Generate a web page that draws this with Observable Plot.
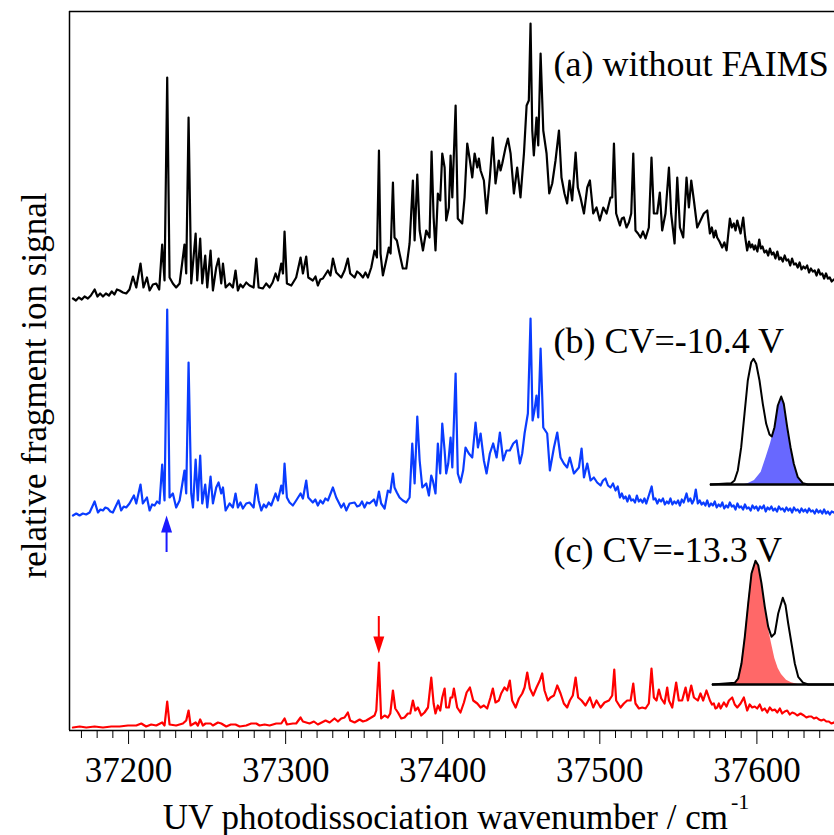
<!DOCTYPE html>
<html>
<head>
<meta charset="utf-8">
<script src="https://cdn.jsdelivr.net/npm/d3@7"></script>
<script src="https://cdn.jsdelivr.net/npm/@observablehq/plot@0.6"></script>
<style>
  body { margin: 0; background: white; }
  #wrap { position: relative; width: 834px; height: 835px; }
  .inset { position: absolute; }
</style>
</head>
<body>
<div id="wrap"></div>
<script>
// UV photodissociation spectra, stacked: [wavenumber (cm^-1), signal + vertical offset]
const spectrumA = [
  [37164.6,432],[37166.5,430],[37168.3,433],[37170.2,431],[37172.0,434],[37174.1,432],[37176.0,435],[37178.4,441],
  [37180.2,434],[37181.9,437],[37183.7,434],[37185.6,437],[37187.5,435],[37189.3,439],[37191.0,436],[37192.6,441],
  [37194.3,440],[37196.4,438],[37198.5,437],[37200.6,441],[37202.8,454],[37204.9,443],[37207.6,467],
  [37209.5,443],[37211.7,453],[37213.4,440],[37215.5,446],[37217.6,447],[37219.5,441],[37221.4,486],[37222.9,450],[37224.6,653],[37226.1,453],
  [37228.2,447],[37230.3,443],[37232.5,447],[37235.6,486],[37236.7,457],[37238.2,613],[37239.9,447],[37242.7,497],
  [37243.7,450],[37245.6,492],[37246.9,447],[37248.8,475],[37250.1,443],[37252.2,480],[37253.7,440],[37255.8,463],
  [37257.3,472],[37259.0,447],[37260.1,467],[37261.8,443],[37264.3,447],[37266.4,443],[37268.1,460],[37269.6,440],
  [37271.2,446],[37272.8,443],[37274.9,448],[37277.0,445],[37279.6,443],[37281.3,472],[37282.8,443],[37285.5,442],[37287.6,447],[37289.8,443],[37291.7,448],[37293.6,457],
  [37295.1,450],[37297.2,467],[37298.3,457],[37299.3,499],[37300.8,447],[37303.6,445],[37306.7,453],[37309.5,473],
  [37311.0,457],[37313.1,474],[37314.4,453],[37317.3,450],[37319.0,454],[37320.5,445],[37322.1,451],[37323.7,452],[37326.9,460],[37328.5,455],[37330.1,472],
  [37332.2,458],[37335.4,453],[37337.5,460],[37339.6,472],[37341.1,457],[37343.9,453],[37345.5,459],[37347.1,457],[37349.2,453],[37350.8,458],[37352.4,453],
  [37354.5,463],[37356.6,480],[37358.1,473],[37359.4,580],[37360.4,477],[37361.9,455],[37364.0,470],[37365.7,483],
  [37366.8,477],[37368.3,548],[37369.3,493],[37370.8,490],[37372.5,477],[37374.6,462],[37376.8,462],[37378.9,487],
  [37381.0,550],[37382.1,490],[37383.8,556],[37385.3,500],[37387.4,480],[37389.5,500],[37391.6,493],[37392.9,579],
  [37394.2,513],[37395.4,480],[37396.9,537],[37398.4,530],[37399.7,577],[37401.2,563],[37402.2,510],[37403.9,523],
  [37405.0,575],[37406.1,533],[37408.2,625],[37409.6,512],[37412.4,507],[37413.9,533],[37415.6,587],[37417.3,570],
  [37418.8,553],[37420.3,577],[37422.0,563],[37423.0,572],[37424.1,560],[37426.2,550],[37427.9,517],[37430.0,553],[37431.9,593],
  [37433.6,547],[37435.7,570],[37436.8,560],[37437.9,567],[37440.0,583],[37441.5,592],[37443.2,577],[37445.3,537],[37447.4,563],
  [37449.5,533],[37451.7,577],[37453.4,625],[37454.8,630],[37455.9,707],[37457.0,600],[37458.0,575],[37459.7,613],
  [37460.8,585],[37462.3,677],[37464.0,600],[37466.1,577],[37467.8,537],[37469.7,547],[37471.8,570],[37474.0,600],
  [37475.6,553],[37477.5,537],[37479.2,527],[37480.7,550],[37482.4,530],[37484.6,578],[37486.0,543],[37487.7,533],
  [37489.9,517],[37492.0,543],[37493.7,550],[37495.8,517],[37497.9,523],[37500.0,510],[37502.2,523],[37504.3,517],
  [37506.8,533],[37507.9,533],[37509.0,587],[37510.4,517],[37512.8,505],[37514.0,512],[37515.3,513],[37517.0,503],[37518.5,508],[37520.0,517],
  [37521.3,577],[37522.7,500],[37524.3,497],[37525.9,493],[37527.5,499],[37529.1,492],[37531.2,503],[37532.9,573],[37534.4,517],[37536.5,517],
  [37538.2,538],[37539.7,500],[37541.8,517],[37544.0,563],[37545.4,517],[37547.6,487],[37549.3,553],[37551.0,503],
  [37553.1,493],[37555.2,553],[37556.7,523],[37558.2,550],[37559.9,530],[37562.0,503],[37564.1,510],[37566.2,517],
  [37568.4,520],[37570.1,497],[37571.3,503],[37572.6,493],[37573.7,500],[37574.7,493],[37576.2,489],[37577.9,483],[37579.3,488],[37580.7,480],[37582.8,512],[37584.0,503],[37585.3,507],
  [37586.4,500],[37587.5,510],[37589.6,497],[37591.3,513],[37592.5,494],[37593.8,480],[37595.0,489],[37596.0,483],[37597.0,486],[37598.2,481],
  [37599.0,485],[37600.3,479],[37601.5,491],[37602.5,482],[37603.6,484],[37604.8,478],[37606.0,480],[37607.2,475],
  [37608.3,482],[37609.5,476],[37610.6,478],[37611.8,472],[37613.0,479],[37614.2,471],[37615.3,473],[37616.5,469],
  [37617.7,475],[37618.8,470],[37620.0,471],[37621.2,465],[37622.4,472],[37623.6,466],[37624.8,467],[37626.0,463],
  [37627.2,468],[37628.4,461],[37629.6,464],[37630.8,462],[37632.0,465],[37633.2,458],[37634.4,462],[37635.6,459],
  [37636.8,460],[37638.0,455],[37639.2,461],[37640.4,456],[37641.6,457],[37642.8,452],[37644.0,457],[37645.2,452],
  [37646.4,453],[37647.6,449],[37649.0,451]
];

const spectrumB = [
  [37164.6,215],[37166.7,217],[37168.8,215],[37170.9,217],[37173.0,216],[37175.2,218],[37178.4,229],[37180.5,218],[37182.1,221],[37183.7,220],[37185.2,223],[37186.8,222],[37188.4,219],[37190.0,218],
  [37193.6,230],[37195.3,220],[37196.9,224],[37198.5,223],[37200.6,227],[37203.4,235],[37204.9,227],[37207.6,246],[37209.1,227],
  [37211.7,233],[37213.4,220],[37215.0,226],[37216.6,225],[37218.1,229],[37219.7,227],[37221.4,266],[37222.9,230],[37224.6,421],[37226.1,233],
  [37228.2,237],[37230.3,223],[37232.5,230],[37235.6,260],[37236.7,237],[37238.2,368],[37239.9,237],[37241.0,223],
  [37242.7,271],[37244.1,230],[37245.6,275],[37246.9,227],[37248.8,246],[37250.1,223],[37252.2,254],[37253.7,227],
  [37255.8,243],[37257.3,248],[37259.0,237],[37260.1,243],[37261.8,220],[37264.3,227],[37266.4,223],[37268.1,237],
  [37269.6,223],[37271.2,228],[37272.8,222],[37274.9,227],[37277.0,228],[37279.6,223],[37281.3,246],[37282.8,230],[37284.5,220],[37286.1,226],[37287.6,223],
  [37289.2,228],[37290.8,225],[37293.6,237],[37295.1,230],[37297.2,245],[37298.3,237],[37299.3,267],[37300.8,233],[37302.5,228],
  [37304.6,225],[37306.7,230],[37309.5,237],[37311.0,232],[37313.1,250],[37314.4,233],[37317.3,228],[37318.9,231],[37320.5,225],
  [37322.1,230],[37323.7,227],[37325.3,232],[37326.9,230],[37330.1,243],[37332.2,233],[37335.4,223],[37337.0,227],[37338.6,220],[37340.7,227],[37343.9,228],
  [37345.5,224],[37347.1,225],[37348.6,229],[37350.2,223],[37351.8,228],[37353.4,227],[37356.2,231],[37357.7,225],[37359.4,239],[37360.8,227],[37363.0,222],
  [37365.1,240],[37366.6,238],[37368.3,257],[37369.3,243],[37370.8,238],[37372.5,233],[37374.6,230],[37376.8,228],
  [37378.9,233],[37380.6,287],[37382.1,247],[37383.8,314],[37385.3,270],[37387.0,243],[37389.5,247],[37391.2,235],
  [37392.7,255],[37393.7,250],[37395.4,237],[37396.9,287],[37398.4,257],[37399.7,307],[37401.2,280],[37402.2,257],
  [37403.5,267],[37405.0,293],[37406.1,263],[37408.2,357],[37409.6,257],[37411.3,248],[37413.0,260],[37414.5,283],
  [37416.6,277],[37418.8,273],[37420.9,308],[37422.4,283],[37424.1,297],[37426.2,270],[37427.9,257],[37430.0,277],
  [37432.1,287],[37434.3,273],[37436.4,298],[37438.5,270],[37440.6,280],[37442.7,280],[37444.9,287],[37447.0,290],
  [37449.1,267],[37450.6,277],[37452.1,297],[37454.2,317],[37455.9,412],[37457.2,310],[37458.4,320],[37459.7,335],
  [37460.8,313],[37462.3,382],[37464.0,303],[37466.5,297],[37468.2,260],[37470.8,283],[37472.9,298],[37475.0,273],
  [37477.1,267],[37479.2,263],[37480.9,273],[37483.5,257],[37486.7,263],[37488.4,282],[37489.9,253],[37492.0,267],
  [37494.1,250],[37496.2,253],[37498.3,248],[37500.5,245],[37502.0,250],[37503.6,252],[37505.2,245],[37506.8,243],[37508.4,247],[37510.0,240],[37511.4,244],
  [37512.8,233],[37514.0,237],[37515.2,232],[37516.4,234],[37517.6,229],[37518.8,235],[37520.0,230],[37521.2,231],
  [37522.4,228],[37523.6,235],[37524.8,229],[37526.0,231],[37527.2,228],[37528.4,232],[37529.6,227],[37530.8,233],
  [37533.0,244],[37534.2,231],[37535.4,232],[37536.6,227],[37537.8,231],[37539.0,229],[37540.2,232],[37541.4,226],
  [37542.6,229],[37543.8,227],[37545.0,232],[37546.2,226],[37547.4,229],[37548.6,227],[37549.8,230],[37551.0,225],
  [37552.2,231],[37553.4,228],[37555.2,237],[37556.4,229],[37557.6,232],[37558.8,227],[37560.0,231],[37561.1,241],
  [37562.4,227],[37563.6,230],[37564.8,226],[37566.0,228],[37567.2,225],[37568.4,230],[37569.6,224],[37570.8,227],
  [37572.0,225],[37573.2,229],[37574.4,223],[37575.6,226],[37576.8,224],[37578.0,228],[37579.2,222],[37580.4,225],
  [37581.6,223],[37582.8,228],[37584.0,224],[37585.2,225],[37586.4,221],[37587.6,227],[37588.8,223],[37590.0,224],
  [37591.2,221],[37592.4,226],[37593.6,222],[37594.8,223],[37596.0,220],[37597.2,225],[37598.4,222],[37599.6,224],
  [37600.8,220],[37602.0,224],[37603.2,222],[37604.4,225],[37605.6,219],[37606.8,223],[37608.0,221],[37609.2,224],
  [37610.4,220],[37611.6,222],[37612.8,219],[37614.0,224],[37615.2,221],[37616.4,222],[37617.6,219],[37618.8,223],
  [37620.0,220],[37621.2,222],[37622.4,218],[37623.6,223],[37624.8,220],[37626.0,221],[37627.2,218],[37628.4,222],
  [37629.6,219],[37630.8,221],[37632.0,218],[37633.2,222],[37634.4,219],[37635.6,220],[37636.8,217],[37638.0,221],
  [37639.2,218],[37640.4,220],[37641.6,217],[37642.8,221],[37644.0,217],[37645.2,219],[37646.4,216],[37647.6,219],
  [37649.0,218]
];

const spectrumC = [
  [37164.6,3],[37168.9,4],[37173.1,3],[37178.4,4],[37183.7,3],[37189.0,4],[37194.3,4],[37199.6,5],[37204.9,5],[37208.1,7],[37211.2,4],[37214.4,6],[37217.6,5],
  [37221.4,8],[37222.9,5],[37224.6,29],[37226.1,6],[37230.3,5],[37234.6,7],[37236.7,10],[37238.2,20],
  [37239.5,5],[37242.7,8],[37244.1,5],[37245.6,11],[37247.3,5],[37249.0,7],[37252.2,7],[37253.7,5],
  [37256.9,8],[37259.0,7],[37262.2,4],[37265.1,6],[37268.1,6],[37270.7,4],[37274.9,5],[37278.1,7],[37281.3,7],[37283.4,5],
  [37286.6,6],[37289.8,5],[37294.0,7],[37297.2,7],[37299.3,12],[37300.8,6],[37304.6,7],[37306.7,7],[37309.5,13],
  [37311.0,9],[37315.2,7],[37318.0,9],[37320.5,6],[37325.4,10],[37328.0,8],[37331.1,12],[37333.3,9],[37335.4,12],
  [37337.5,13],[37339.6,18],[37341.1,10],[37343.9,8],[37347.1,11],[37349.2,9],[37351.3,10],[37354.5,13],[37356.6,15],
  [37357.7,20],[37359.4,68],[37360.8,12],[37363.0,15],[37365.1,13],[37366.6,17],[37368.3,40],[37369.8,22],
  [37371.5,18],[37373.6,12],[37375.7,13],[37377.8,17],[37379.3,17],[37381.0,30],[37382.5,20],[37384.2,23],
  [37386.3,15],[37388.4,18],[37390.6,23],[37392.7,53],[37394.2,27],[37395.4,17],[37396.9,25],[37398.4,20],
  [37399.7,33],[37401.2,42],[37402.2,23],[37403.9,23],[37405.0,33],[37406.1,33],[37407.1,42],[37409.2,23],
  [37411.3,18],[37413.5,28],[37415.2,38],[37417.3,43],[37419.4,30],[37422.0,27],[37424.1,23],[37426.2,25],
  [37428.3,22],[37430.4,33],[37431.9,42],[37433.6,28],[37435.7,30],[37437.2,37],[37439.3,43],[37441.0,40],
  [37442.7,50],[37444.2,30],[37446.4,23],[37448.5,32],[37450.6,37],[37452.1,43],[37453.8,58],[37455.5,42],
  [37457.6,35],[37459.7,43],[37461.8,50],[37463.3,57],[37464.8,40],[37466.9,30],[37468.6,33],[37470.8,35],
  [37472.9,45],[37475.0,37],[37477.1,27],[37479.2,23],[37480.9,30],[37482.8,35],[37484.6,53],[37486.2,33],
  [37488.4,30],[37490.9,25],[37493.7,33],[37495.8,23],[37497.9,30],[37500.5,23],[37503.0,28],[37505.8,30],
  [37507.9,35],[37509.2,61],[37510.4,30],[37513.2,23],[37515.3,27],[37517.4,30],[37519.6,30],[37521.3,47],
  [37522.7,27],[37524.9,22],[37527.0,23],[37529.1,22],[37531.2,27],[37532.9,62],[37534.4,33],[37536.1,30],
  [37537.6,41],[37539.1,32],[37541.2,27],[37542.9,43],[37544.0,30],[37546.1,23],[37548.6,48],[37550.3,30],
  [37552.4,30],[37554.6,43],[37556.1,30],[37558.2,45],[37559.9,33],[37562.4,30],[37564.1,37],[37565.8,30],
  [37567.9,40],[37570.1,30],[37571.4,26],[37572.6,27],[37573.6,22],[37574.7,23],[37575.8,27],[37576.9,22],[37579.0,28],[37580.6,24],[37582.2,30],[37584.3,33],
  [37585.9,26],[37587.5,23],[37589.6,27],[37591.7,33],[37593.8,20],[37595.4,26],[37597.0,23],[37598.6,24],[37600.2,22],[37601.8,26],[37603.4,20],
  [37605.0,22],[37606.6,18],[37608.2,23],[37609.8,20],[37611.4,21],[37613.0,18],[37614.6,22],[37616.1,17],[37617.7,19],[37619.3,20],
  [37620.9,16],[37622.5,18],[37624.1,17],[37625.7,15],[37627.8,17],[37629.9,15],[37631.5,13],[37633.1,14],[37634.7,14],
  [37636.3,12],[37637.9,13],[37639.5,11],[37641.0,10],[37642.6,11],[37644.2,9],[37645.8,9],[37647.4,7],[37649.0,8]
];

// Trace labels and their baselines
const traceLabels = ["(a) without FAIMS", "(b) CV=-10.4 V", "(c) CV=-13.3 V"];
const traceLabelY = [655, 378, 169];
const traceLabelX = 37470.5;

// Marked bands: wavenumber, tail and tip of each arrow
const arrowX = [37224.2, 37359.3];
const arrowTail = [178, 114];
const arrowTip = [215, 77];

// Axis ticks
const majorTicks = [37200, 37300, 37400, 37500, 37600];
const minorTicks = d3.range(37170, 37650, 10).filter(v => v % 100 !== 0);
const xDomain = [37162.4, 37649.4];
const yDomain = [0, 719];

// FAIMS (compensation-voltage) profiles shown as insets: [position, intensity]
const faimsB = [
  [0,0],[20.7,1.3],[24,4],[27.3,14],[30.7,37.3],[34,70.7],[37.3,104],[40.7,122.3],[43,125.7],[45.7,120.7],
  [49,104],[52.3,80.7],[55.7,60.7],[59,50],[61.3,48],[64,57.3],[67.3,79],[70.7,88],[73.3,80.7],[76.7,57.3],
  [80,37.3],[83.3,20.7],[87.3,7.3],[92.3,1.3],[97.3,0],[124,0]
];
const faimsBSelected = [
  [34,0],[37.3,0.7],[44,4],[50.7,12.3],[55.7,27.3],[60,40.7],[64,55.7],[67.3,78],[70.7,87.3],[73.3,80],
  [76.7,57.3],[80,37.3],[83.3,20.7],[87.3,7.3],[92.3,1.3],[97.3,0]
];
const faimsC = [
  [0,0],[22.3,1.7],[25.7,6],[29,21],[32.3,47.7],[35.7,81],[39,111],[43,123.7],[45.7,119.3],[49,101],
  [52.3,77.7],[55.7,57.7],[59,47.7],[62.3,51],[65.7,71],[70.3,86.7],[73,79.3],[75.7,61],[79,41],[82.3,21],
  [85.7,7.7],[90.7,1.7],[95.7,0],[122,0]
];
const faimsCSelected = [
  [22.3,1.7],[25.7,6],[29,21],[32.3,47.7],[35.7,81],[39,111],[43,123.7],[45.7,119.3],[49,101],[52.3,77.7],
  [55.7,57],[59,41],[62.3,26],[65.7,16],[69,10],[74,4.3],[79,1.7],[85.7,0]
];

const serif = '"Liberation Serif", "Times New Roman", Times, serif';
const xTitle = "UV photodissociation wavenumber / cm";
const yTitle = "relative fragment ion signal";

// Filled arrowhead with its tip at the origin, pointing up
const arrowHead = {
  draw(context) {
    context.moveTo(0, 0);
    context.lineTo(-5.5, 17);
    context.lineTo(5.5, 17);
    context.closePath();
  }
};

const px = d => d[0], py = d => d[1];

const chart = Plot.plot({
  width: 834,
  height: 835,
  marginTop: 11,
  marginLeft: 69,
  marginRight: 0,
  marginBottom: 105,
  style: {fontFamily: serif, fontSize: "35px", background: "white", color: "black"},
  x: {domain: xDomain, label: null},
  y: {domain: yDomain, axis: null, label: null},
  marks: [
    Plot.ruleY([yDomain[1]], {stroke: "black", strokeWidth: 1.5}),
    Plot.ruleX([xDomain[0]], {stroke: "black", strokeWidth: 1.5}),
    Plot.ruleY([yDomain[0]], {stroke: "black", strokeWidth: 1.6}),
    Plot.axisX({ticks: minorTicks, tickSize: 8, tickFormat: () => "", label: null, strokeWidth: 1}),
    Plot.axisX({ticks: majorTicks, tickSize: 14, tickPadding: 13, tickFormat: d => String(d), label: null, strokeWidth: 1, fontSize: 35}),
    Plot.line(spectrumA, {x: px, y: py, stroke: "black", strokeWidth: 2.2, strokeLinejoin: "round"}),
    Plot.line(spectrumB, {x: px, y: py, stroke: "#0a3cff", strokeWidth: 2.2, strokeLinejoin: "round"}),
    Plot.line(spectrumC, {x: px, y: py, stroke: "#ff0000", strokeWidth: 2.2, strokeLinejoin: "round"}),
    // arrows marking the bands picked out by each compensation voltage
    Plot.ruleX([0], {x: arrowX[0], y1: arrowTail[0], y2: arrowTip[0] - 10, stroke: "#1a1aff", strokeWidth: 2}),
    Plot.dot([0], {x: arrowX[0], y: arrowTip[0], symbol: arrowHead, r: 5, fill: "#1a1aff", stroke: "none"}),
    Plot.ruleX([0], {x: arrowX[1], y1: arrowTail[1], y2: arrowTip[1] + 10, stroke: "#ff0000", strokeWidth: 2}),
    Plot.dot([0], {x: arrowX[1], y: arrowTip[1], symbol: arrowHead, r: 5, rotate: 180, fill: "#ff0000", stroke: "none"}),
    Plot.text(traceLabels, {x: traceLabelX, y: (d, i) => traceLabelY[i], text: d => d, textAnchor: "start", lineAnchor: "bottom", fontSize: 36, fill: "black"}),
    Plot.text([xTitle], {frameAnchor: "bottom", textAnchor: "middle", lineAnchor: "bottom", dy: 98, dx: 4, fontSize: 35, fill: "black"}),
    Plot.text([yTitle], {frameAnchor: "left", rotate: -90, textAnchor: "middle", lineAnchor: "bottom", dx: -24, dy: 14.5, fontSize: 35, fill: "black"})
  ]
});

// superscript exponent on the unit
d3.select(chart).selectAll("text").filter(function() { return this.textContent === xTitle; })
  .append("tspan").attr("dx", 3).attr("dy", -20).attr("font-size", 22).text("-1");

function inset(profile, selected, fill, width) {
  return Plot.plot({
    width, height: 140,
    marginTop: 5, marginBottom: 3, marginLeft: 0, marginRight: 0,
    style: {background: "transparent", overflow: "visible"},
    x: {domain: [0, width], axis: null},
    y: {domain: [0, 132], axis: null},
    marks: [
      Plot.areaY(selected, {x: px, y: py, fill}),
      Plot.line(profile, {x: px, y: py, stroke: "black", strokeWidth: 2}),
      Plot.ruleY([0], {stroke: "black", strokeWidth: 2.6})
    ]
  });
}

const wrap = document.getElementById("wrap");
wrap.appendChild(chart);

const insetB = inset(faimsB, faimsBSelected, "#6868ff", 124);
insetB.classList.add("inset");
insetB.style.left = "710px";
insetB.style.top = "347px";
wrap.appendChild(insetB);

const insetC = inset(faimsC, faimsCSelected, "#ff6868", 122);
insetC.classList.add("inset");
insetC.style.left = "712px";
insetC.style.top = "547px";
wrap.appendChild(insetC);
</script>
</body>
</html>
